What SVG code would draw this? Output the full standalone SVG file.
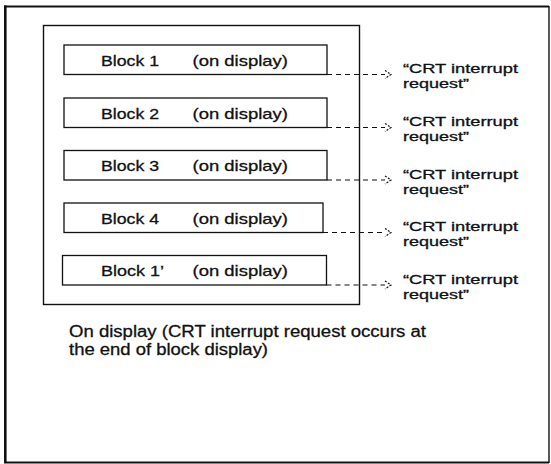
<svg xmlns="http://www.w3.org/2000/svg" width="551" height="464" viewBox="0 0 551 464">
<style>
  .t { font-family: "Liberation Sans", Arial, Helvetica, sans-serif; fill: #111; stroke: #111; stroke-width: 0.3; }
  .blk { font-size: 15px; }
  .lbl { font-size: 13px; }
  .cap { font-size: 16px; }
  .box { fill: #fff; stroke: #111; stroke-width: 1.3; }
  .conn { fill: none; stroke: #111; stroke-width: 1.2; stroke-dasharray: 5 4; }
</style>
<defs>
  <marker id="arr" markerUnits="userSpaceOnUse" markerWidth="10" markerHeight="12" refX="0" refY="5" orient="auto" overflow="visible">
    <path d="M0,1 L6,5 L0,9" fill="none" stroke="#111" stroke-width="1.2" stroke-dasharray="2 1.5"/>
  </marker>
</defs>
<rect width="551" height="464" fill="#fff"/>
<g id="page-frame" fill="none" stroke="#111">
  <line x1="5.3" y1="5.5" x2="5.3" y2="463" stroke-width="2.6"/>
  <line x1="4" y1="6.5" x2="549" y2="6.5" stroke-width="2"/>
  <line x1="4" y1="462.5" x2="549" y2="462.5" stroke-width="2"/>
  <line x1="549" y1="6" x2="549" y2="463" stroke-width="1.4"/>
</g>
<g id="display-frame">
  <rect x="43.5" y="25.5" width="316" height="279" fill="none" stroke="#111" stroke-width="1.4"/>
</g>
<g id="block-1">
  <rect class="box" x="64" y="45" width="263" height="29.5"/>
  <text class="t blk" x="101" y="65.5" textLength="58" lengthAdjust="spacingAndGlyphs">Block 1</text>
  <text class="t blk" x="192.5" y="65.5" textLength="95.5" lengthAdjust="spacingAndGlyphs">(on display)</text>
</g>
<g id="block-2">
  <rect class="box" x="64" y="98" width="263" height="29.5"/>
  <text class="t blk" x="101" y="118.5" textLength="58" lengthAdjust="spacingAndGlyphs">Block 2</text>
  <text class="t blk" x="192.5" y="118.5" textLength="95.5" lengthAdjust="spacingAndGlyphs">(on display)</text>
</g>
<g id="block-3">
  <rect class="box" x="64" y="150.5" width="263" height="29.5"/>
  <text class="t blk" x="101" y="171" textLength="58" lengthAdjust="spacingAndGlyphs">Block 3</text>
  <text class="t blk" x="192.5" y="171" textLength="95.5" lengthAdjust="spacingAndGlyphs">(on display)</text>
</g>
<g id="block-4">
  <rect class="box" x="64" y="203" width="259" height="29.5"/>
  <text class="t blk" x="101" y="223.5" textLength="58" lengthAdjust="spacingAndGlyphs">Block 4</text>
  <text class="t blk" x="192.5" y="223.5" textLength="95.5" lengthAdjust="spacingAndGlyphs">(on display)</text>
</g>
<g id="block-1prime">
  <rect class="box" x="62.5" y="255.5" width="264" height="29.5"/>
  <text class="t blk" x="101" y="276" textLength="63" lengthAdjust="spacingAndGlyphs">Block 1’</text>
  <text class="t blk" x="192.5" y="276" textLength="95.5" lengthAdjust="spacingAndGlyphs">(on display)</text>
</g>
<g id="connectors">
  <line class="conn" x1="327" y1="74.5" x2="385" y2="74.5" marker-end="url(#arr)"/>
  <line class="conn" x1="327" y1="127.5" x2="385" y2="127.5" marker-end="url(#arr)"/>
  <line class="conn" x1="327" y1="180" x2="385" y2="180" marker-end="url(#arr)"/>
  <line class="conn" x1="323" y1="232.5" x2="385" y2="232.5" marker-end="url(#arr)"/>
  <line class="conn" x1="326.5" y1="285" x2="385" y2="285" marker-end="url(#arr)"/>
</g>
<g id="label-1">
  <text class="t lbl" x="403" y="73" textLength="115" lengthAdjust="spacingAndGlyphs">“CRT interrupt</text>
  <text class="t lbl" x="403" y="88" textLength="66" lengthAdjust="spacingAndGlyphs">request”</text>
</g>
<g id="label-2">
  <text class="t lbl" x="403" y="126" textLength="115" lengthAdjust="spacingAndGlyphs">“CRT interrupt</text>
  <text class="t lbl" x="403" y="141" textLength="66" lengthAdjust="spacingAndGlyphs">request”</text>
</g>
<g id="label-3">
  <text class="t lbl" x="403" y="178.5" textLength="115" lengthAdjust="spacingAndGlyphs">“CRT interrupt</text>
  <text class="t lbl" x="403" y="193.5" textLength="66" lengthAdjust="spacingAndGlyphs">request”</text>
</g>
<g id="label-4">
  <text class="t lbl" x="403" y="231" textLength="115" lengthAdjust="spacingAndGlyphs">“CRT interrupt</text>
  <text class="t lbl" x="403" y="246" textLength="66" lengthAdjust="spacingAndGlyphs">request”</text>
</g>
<g id="label-5">
  <text class="t lbl" x="403" y="283.5" textLength="115" lengthAdjust="spacingAndGlyphs">“CRT interrupt</text>
  <text class="t lbl" x="403" y="298.5" textLength="66" lengthAdjust="spacingAndGlyphs">request”</text>
</g>
<g id="caption">
  <text class="t cap" x="69" y="337" textLength="357" lengthAdjust="spacingAndGlyphs">On display (CRT interrupt request occurs at</text>
  <text class="t cap" x="69" y="355" textLength="199" lengthAdjust="spacingAndGlyphs">the end of block display)</text>
</g>
</svg>
